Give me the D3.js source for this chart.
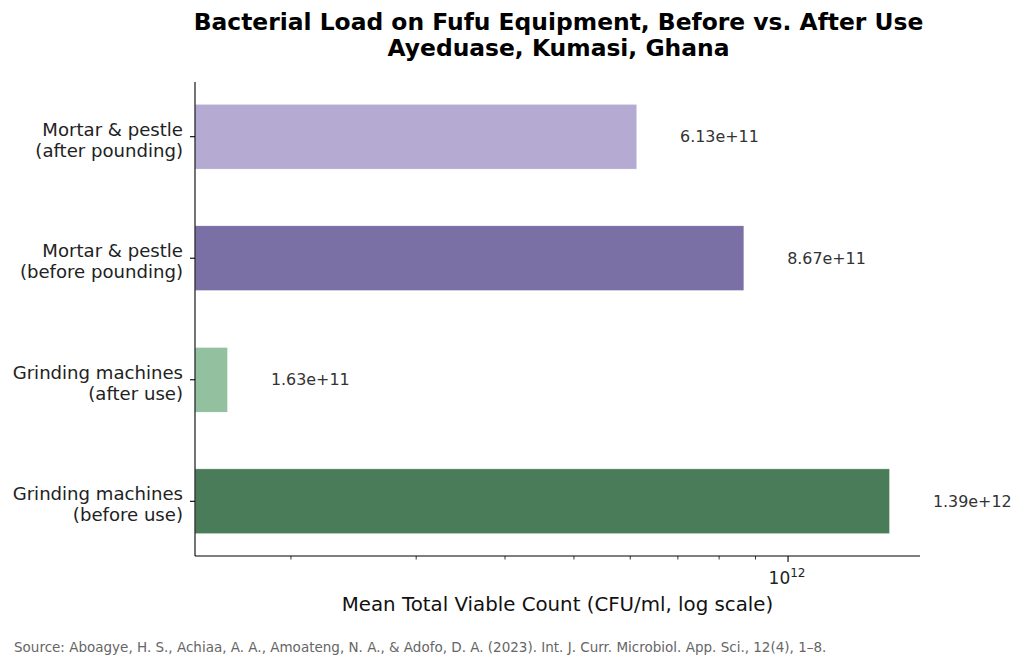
<!DOCTYPE html>
<html>
<head>
<meta charset="utf-8">
<script src="https://cdn.jsdelivr.net/npm/d3@7"></script>
<style>
body{margin:0;background:#fff}
svg{display:block;font-family:"DejaVu Sans",sans-serif}
</style>
</head>
<body>
<div id="graph"></div>
<script>
"use strict"
// categories top to bottom
var categories=[["Mortar & pestle","(after pounding)"],["Mortar & pestle","(before pounding)"],["Grinding machines","(after use)"],["Grinding machines","(before use)"]]
var values=[6.13e11,8.67e11,1.63e11,1.39e12]
var valueLabels=["6.13e+11","8.67e+11","1.63e+11","1.39e+12"]
var colors=["#b5aad1","#7b70a6","#93c1a0","#4a7c59"]
var minorTicks=[2e11,3e11,4e11,5e11,6e11,7e11,8e11,9e11]
var majorTicks=[1e12]

var W=1024,H=668
var axL=195,axR=920,axT=82,axB=556

var svg=d3.select('#graph').append('svg').attr('width',W).attr('height',H)

var x=d3.scaleLog().domain([1.466e11,1.533e12]).range([axL,axR])
var y=d3.scalePoint().domain(d3.range(categories.length)).range([axT,axB]).padding(0.45)
var bh=y.step()*0.535

// bars
svg.append('g').selectAll('rect').data(values).join('rect')
  .attr('x',axL)
  .attr('y',function(d,i){return y(i)-bh/2})
  .attr('width',function(d){return x(d)-axL})
  .attr('height',bh)
  .attr('fill',function(d,i){return colors[i]})
  .attr('stroke','#ffffff').attr('stroke-width',0.6)

// value labels
svg.append('g').selectAll('text').data(values).join('text')
  .attr('x',function(d){return x(d*1.15)})
  .attr('y',function(d,i){return y(i)})
  .attr('dy','0.35em')
  .attr('font-size',15.9).attr('fill','#333333')
  .text(function(d,i){return valueLabels[i]})

// y axis
var gy=svg.append('g')
gy.append('line').attr('x1',axL).attr('x2',axL).attr('y1',axT).attr('y2',axB).attr('stroke','#000').attr('stroke-width',1.1)
categories.forEach(function(c,i){
  gy.append('line').attr('x1',axL-5).attr('x2',axL).attr('y1',y(i)).attr('y2',y(i)).attr('stroke','#000').attr('stroke-width',1.1)
  var t=gy.append('text').attr('text-anchor','end').attr('font-size',18.1).attr('fill','#222')
  t.append('tspan').attr('x',axL-12).attr('y',y(i)-1).text(c[0])
  t.append('tspan').attr('x',axL-12).attr('y',y(i)+20).text(c[1])
})

// x axis
var gx=svg.append('g').attr('transform','translate(0,'+axB+')')
gx.append('line').attr('x1',axL).attr('x2',axR).attr('stroke','#000').attr('stroke-width',1.1)
gx.selectAll('line.minor').data(minorTicks).join('line').attr('class','minor')
  .attr('x1',function(d){return x(d)}).attr('x2',function(d){return x(d)})
  .attr('y1',0).attr('y2',3.5).attr('stroke','#000').attr('stroke-width',0.8)
gx.selectAll('line.major').data(majorTicks).join('line').attr('class','major')
  .attr('x1',function(d){return x(d)}).attr('x2',function(d){return x(d)})
  .attr('y1',0).attr('y2',6).attr('stroke','#000').attr('stroke-width',1.1)
majorTicks.forEach(function(d){
  var t=gx.append('text').attr('x',x(d)-1).attr('y',28).attr('text-anchor','middle').attr('font-size',17).attr('fill','#222')
  t.append('tspan').text('10')
  t.append('tspan').attr('font-size',12).attr('dy',-7).text(Math.round(Math.log10(d)))
})

// axis title
svg.append('text').attr('x',(axL+axR)/2).attr('y',611).attr('text-anchor','middle').attr('font-size',19.8).attr('fill','#111')
  .text('Mean Total Viable Count (CFU/ml, log scale)')

// title
var title=svg.append('text').attr('text-anchor','middle').attr('font-size',23.4).attr('font-weight','bold').attr('fill','#000')
title.append('tspan').attr('x',(axL+axR)/2+1).attr('y',30).text('Bacterial Load on Fufu Equipment, Before vs. After Use')
title.append('tspan').attr('x',(axL+axR)/2+1).attr('y',56).text('Ayeduase, Kumasi, Ghana')

// source
svg.append('text').attr('x',14).attr('y',652).attr('font-size',13.5).attr('fill','#666666')
  .text('Source: Aboagye, H. S., Achiaa, A. A., Amoateng, N. A., & Adofo, D. A. (2023). Int. J. Curr. Microbiol. App. Sci., 12(4), 1–8.')
</script>
</body>
</html>
